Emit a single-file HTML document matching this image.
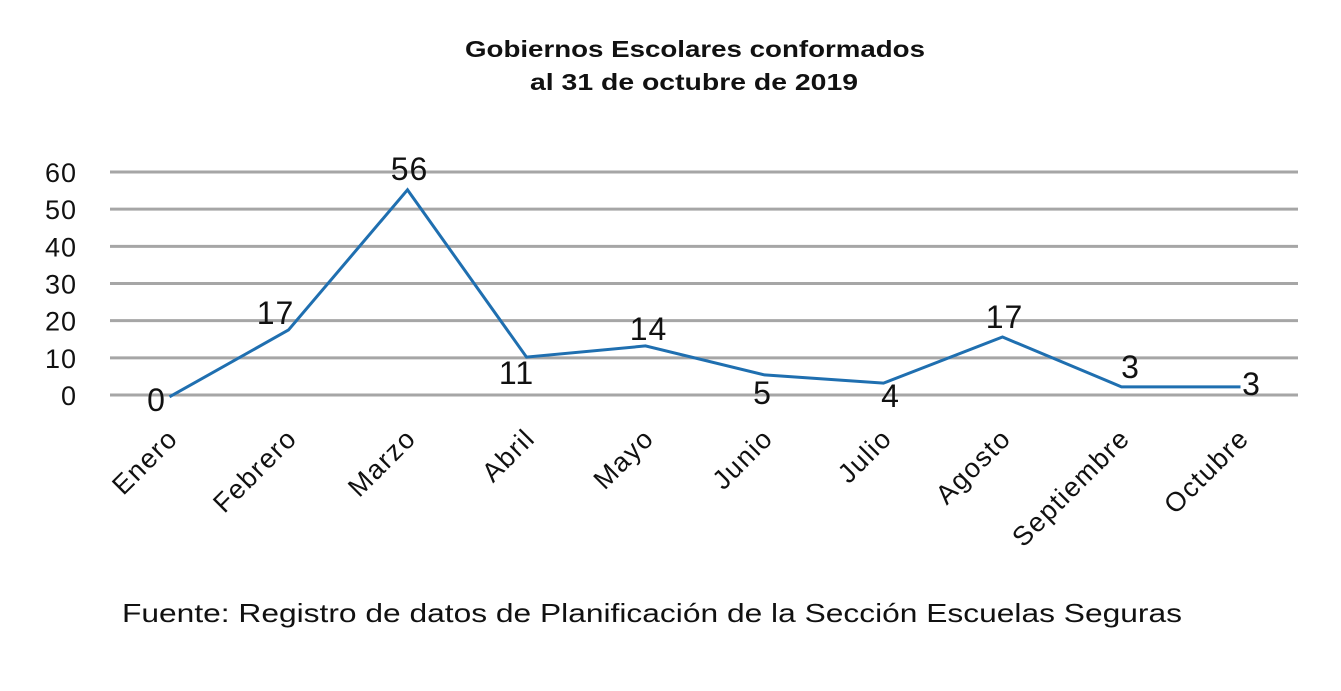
<!DOCTYPE html>
<html><head><meta charset="utf-8"><style>
html,body{margin:0;padding:0;background:#fff;}
svg{display:block;font-family:"Liberation Sans",sans-serif;}
</style></head><body>
<svg id="chart" width="1341" height="691" viewBox="0 0 1341 691">
<text x="465" y="57" textLength="460" lengthAdjust="spacingAndGlyphs" font-size="23" font-weight="bold" fill="#111">Gobiernos Escolares conformados</text>
<text x="530" y="90" textLength="328" lengthAdjust="spacingAndGlyphs" font-size="23" font-weight="bold" fill="#111">al 31 de octubre de 2019</text>
<g id="grid"></g><g id="yaxis"></g><g id="xaxis"></g><g id="series"></g><g id="labels"></g>
<text x="122" y="622" textLength="1060" lengthAdjust="spacingAndGlyphs" font-size="26" fill="#111">Fuente: Registro de datos de Planificación de la Sección Escuelas Seguras</text>
</svg>
<script>
const categories = ["Enero","Febrero","Marzo","Abril","Mayo","Junio","Julio","Agosto","Septiembre","Octubre"];
const values = [-0.5,17.5,55.2,10.2,13.2,5.4,3.2,15.6,2.2,2.2];
const valueLabels = ["0","17","56","11","14","5","4","17","3","3"];
const yTicks = [0,10,20,30,40,50,60];
const labelDx = [-13,-13,2,-10,3,-2,7,2,9,11];
const labelDy = [14,-6,-10,27,-6,29,24,-9,-9,8];
const NS="http://www.w3.org/2000/svg";
const x0=110,x1=1300,yBase=395,yTop=172;
const band=(x1-x0)/categories.length;
const xs=i=>x0+band*(i+0.5);
const ys=v=>yBase-(v/60)*(yBase-yTop);
function mk(tag,attrs,parent){const e=document.createElementNS(NS,tag);for(const k in attrs)e.setAttribute(k,attrs[k]);parent.appendChild(e);return e;}
const grid=document.getElementById('grid'),ya=document.getElementById('yaxis'),xa=document.getElementById('xaxis'),se=document.getElementById('series'),lb=document.getElementById('labels');
yTicks.forEach(t=>{
  const l=mk('line',{x1:x0,x2:x1-2,y1:ys(t),y2:ys(t),stroke:'#a6a6a6','stroke-width':3},grid);
  
  
  const tx=mk('text',{x:77,y:ys(t)+10,'text-anchor':'end','font-size':27,'letter-spacing':1,fill:'#111'},ya);
  tx.textContent=t;
  
  
});
categories.forEach((c,i)=>{
  const x=xs(i)+10,y=440;
  const tx=mk('text',{x:x,y:y,'text-anchor':'end','font-size':27,'letter-spacing':1.5,fill:'#111',transform:`rotate(-45 ${x} ${y})`},xa);
  tx.textContent=c;
  
  
});
const pts=values.map((v,i)=>xs(i)+','+ys(v)).join(' ');
const pl=mk('polyline',{points:pts,fill:'none',stroke:'#1f6fb0','stroke-width':3,'stroke-linejoin':'miter'},se);


values.forEach((v,i)=>{
  const tx=mk('text',{x:xs(i)+labelDx[i],y:ys(v)+labelDy[i],'text-anchor':'middle','font-size':32,'letter-spacing':1,fill:'#111'},lb);
  tx.textContent=valueLabels[i];
  
  
});
</script>
</body></html>
